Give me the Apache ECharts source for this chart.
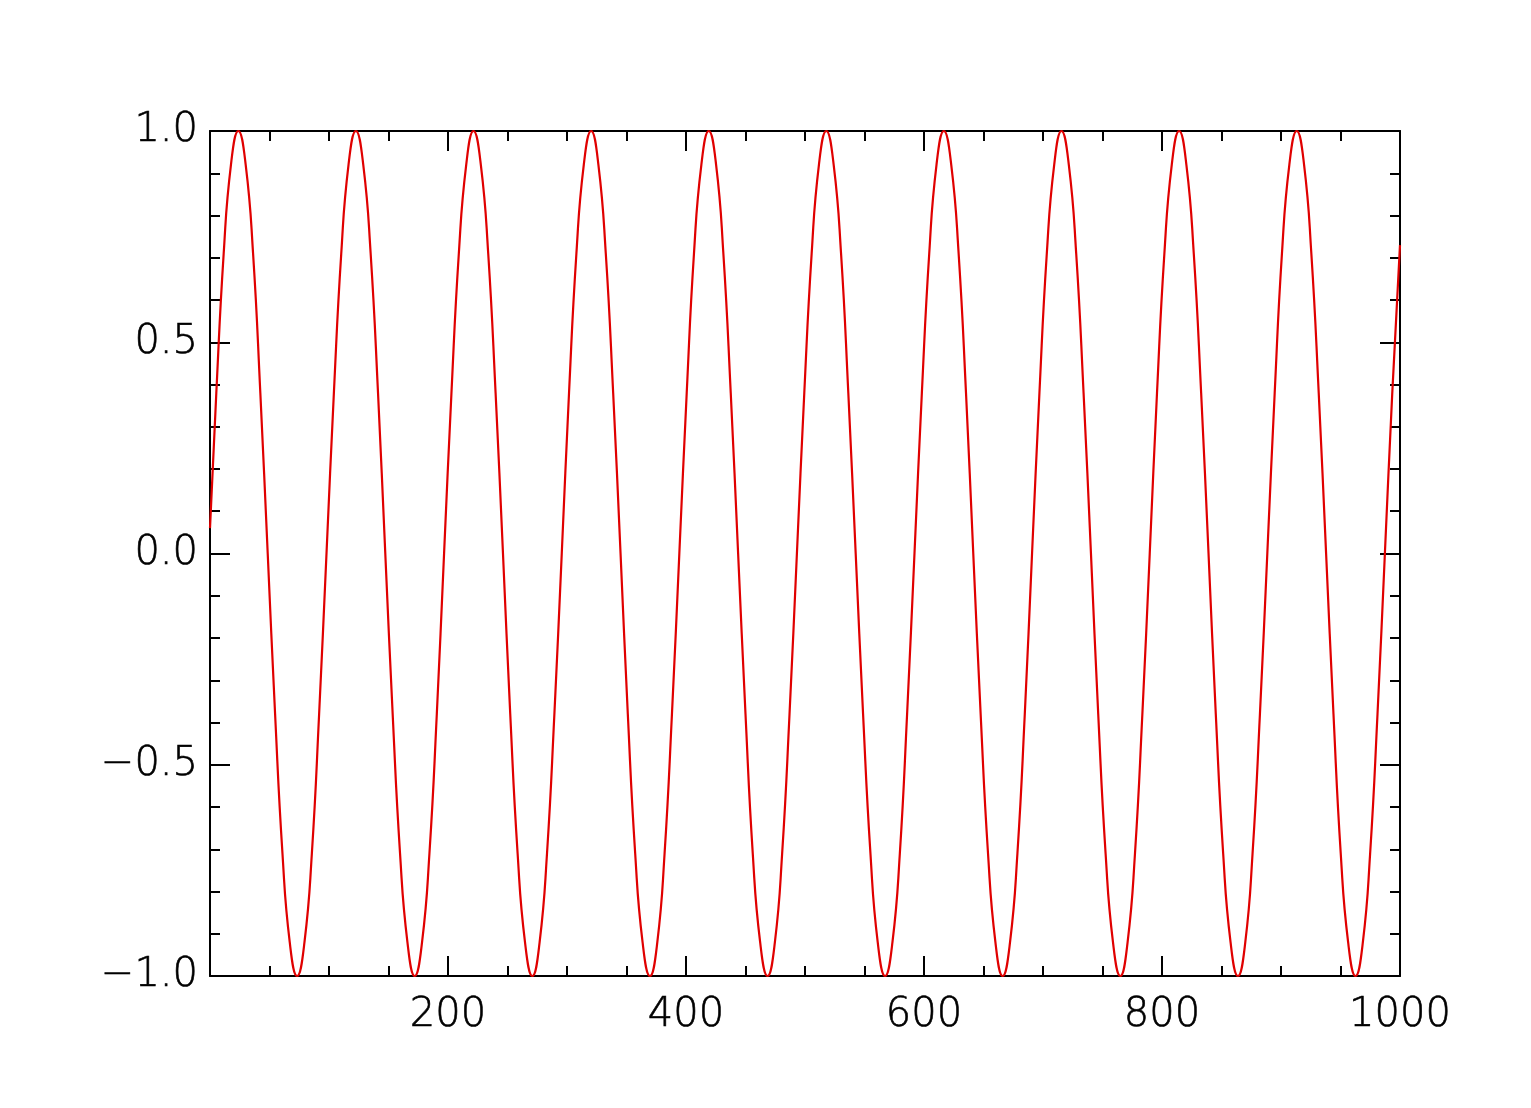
<!DOCTYPE html>
<html>
<head>
<meta charset="utf-8">
<script src="https://cdn.jsdelivr.net/npm/echarts@6/dist/echarts.min.js"></script>
<style>
html,body{margin:0;padding:0;background:#fff;}
#chart{width:1531px;height:1108px;}
</style>
</head>
<body>
<div id="chart"></div>
<script>
// sample positions along x
const xValues = [
  0, 5.3, 11.5, 17.6,
  23.8, 30.0, 36.2, 42.3, 48.5, 54.7, 60.9, 67.0, 73.2, 79.4, 85.6, 91.7, 97.9, 104.1, 110.3, 116.4,
  122.6, 128.8, 135.0, 141.2, 147.3, 153.5, 159.7, 165.9, 172.0, 178.2, 184.4, 190.6, 196.7, 202.9, 209.1, 215.3,
  221.4, 227.6, 233.8, 240.0, 246.2, 252.3, 258.5, 264.7, 270.9, 277.0, 283.2, 289.4, 295.6, 301.7, 307.9, 314.1,
  320.3, 326.4, 332.6, 338.8, 345.0, 351.1, 357.3, 363.5, 369.7, 375.9, 382.0, 388.2, 394.4, 400.6, 406.7, 412.9,
  419.1, 425.3, 431.4, 437.6, 443.8, 450.0, 456.1, 462.3, 468.5, 474.7, 480.8, 487.0, 493.2, 499.4, 505.6, 511.7,
  517.9, 524.1, 530.3, 536.4, 542.6, 548.8, 555.0, 561.1, 567.3, 573.5, 579.7, 585.8, 592.0, 598.2, 604.4, 610.5,
  616.7, 622.9, 629.1, 635.3, 641.4, 647.6, 653.8, 660.0, 666.1, 672.3, 678.5, 684.7, 690.8, 697.0, 703.2, 709.4,
  715.5, 721.7, 727.9, 734.1, 740.3, 746.4, 752.6, 758.8, 765.0, 771.1, 777.3, 783.5, 789.7, 795.8, 802.0, 808.2,
  814.4, 820.5, 826.7, 832.9, 839.1, 845.2, 851.4, 857.6, 863.8, 870.0, 876.1, 882.3, 888.5, 894.7, 900.8, 907.0,
  913.2, 919.4, 925.5, 931.7, 937.9, 944.1, 950.2, 956.4, 962.6, 968.8, 974.9, 981.1, 987.3, 993.5, 1000
];
// signal values at those positions
const yValues = [
  0.06, 0.38, 0.71, 0.92,
  1, 0.92, 0.71, 0.38, 0, -0.38, -0.71, -0.92, -1, -0.92, -0.71, -0.38, 0, 0.38, 0.71, 0.92,
  1, 0.92, 0.71, 0.38, 0, -0.38, -0.71, -0.92, -1, -0.92, -0.71, -0.38, 0, 0.38, 0.71, 0.92,
  1, 0.92, 0.71, 0.38, 0, -0.38, -0.71, -0.92, -1, -0.92, -0.71, -0.38, 0, 0.38, 0.71, 0.92,
  1, 0.92, 0.71, 0.38, 0, -0.38, -0.71, -0.92, -1, -0.92, -0.71, -0.38, 0, 0.38, 0.71, 0.92,
  1, 0.92, 0.71, 0.38, 0, -0.38, -0.71, -0.92, -1, -0.92, -0.71, -0.38, 0, 0.38, 0.71, 0.92,
  1, 0.92, 0.71, 0.38, 0, -0.38, -0.71, -0.92, -1, -0.92, -0.71, -0.38, 0, 0.38, 0.71, 0.92,
  1, 0.92, 0.71, 0.38, 0, -0.38, -0.71, -0.92, -1, -0.92, -0.71, -0.38, 0, 0.38, 0.71, 0.92,
  1, 0.92, 0.71, 0.38, 0, -0.38, -0.71, -0.92, -1, -0.92, -0.71, -0.38, 0, 0.38, 0.71, 0.92,
  1, 0.92, 0.71, 0.38, 0, -0.38, -0.71, -0.92, -1, -0.92, -0.71, -0.38, 0, 0.38, 0.71, 0.92,
  1, 0.92, 0.71, 0.38, 0, -0.38, -0.71, -0.92, -1, -0.92, -0.71, -0.38, 0, 0.38, 0.73
];
const xTickValues = [0, 200, 400, 600, 800, 1000];
const yTickValues = [-1.0, -0.5, 0.0, 0.5, 1.0];

const seriesData = xValues.map((x, i) => [x, yValues[i]]);

const chart = echarts.init(document.getElementById('chart'), null, {renderer: 'canvas'});
const FONT = '"DejaVu Sans", sans-serif';
const axisLine = {show: true, onZero: false, lineStyle: {color: '#000', width: 2}};
const majorTick = {show: true, inside: true, length: 20, lineStyle: {color: '#000', width: 2}};
const xMinor = {show: true, splitNumber: 4, length: 10, lineStyle: {color: '#000', width: 2}};
const yMinor = {show: true, splitNumber: 5, length: 10, lineStyle: {color: '#000', width: 2}};
const labelStyle = {color: '#000', fontFamily: FONT, fontSize: 40, fontWeight: 200,
  textBorderColor: '#000', textBorderWidth: 0.6};

const option = {
  backgroundColor: '#fff',
  animation: false,
  grid: {left: 210, top: 131, right: 131, bottom: 132, containLabel: false},
  xAxis: [
    {
      type: 'value', position: 'bottom', min: xTickValues[0], max: xTickValues[xTickValues.length - 1], interval: 200,
      axisLine: axisLine, axisTick: majorTick, minorTick: xMinor, splitLine: {show: false},
      axisLabel: Object.assign({margin: 20, formatter: v => (v === 0 ? '' : String(v))}, labelStyle)
    },
    {
      type: 'value', position: 'top', min: xTickValues[0], max: xTickValues[xTickValues.length - 1], interval: 200,
      axisLine: axisLine, axisTick: majorTick, minorTick: xMinor, splitLine: {show: false},
      axisLabel: {show: false}
    }
  ],
  yAxis: [
    {
      type: 'value', position: 'left', min: yTickValues[0], max: yTickValues[yTickValues.length - 1], interval: 0.5,
      axisLine: axisLine, axisTick: majorTick, minorTick: yMinor, splitLine: {show: false},
      axisLabel: Object.assign({margin: 12, formatter: v => v.toFixed(1).replace('-', '\u2212')}, labelStyle)
    },
    {
      type: 'value', position: 'right', min: yTickValues[0], max: yTickValues[yTickValues.length - 1], interval: 0.5,
      axisLine: axisLine, axisTick: majorTick, minorTick: yMinor, splitLine: {show: false},
      axisLabel: {show: false}
    }
  ],
  series: [
    {
      type: 'line', xAxisIndex: 0, yAxisIndex: 0, data: seriesData,
      showSymbol: false, symbol: 'none', smooth: 0.5, clip: false,
      lineStyle: {color: '#e00000', width: 2.2}
    }
  ]
};
chart.setOption(option);
</script>
</body>
</html>
